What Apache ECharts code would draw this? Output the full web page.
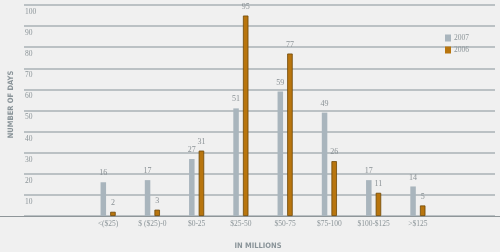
<!DOCTYPE html>
<html><head><meta charset="utf-8">
<script src="https://cdn.jsdelivr.net/npm/echarts@6/dist/echarts.min.js"></script>
<style>html,body{margin:0;padding:0;background:#f0f0f0}#c{width:500px;height:252px}</style>
</head><body><div id="c"></div>
<script>
const categories = ['<($25)', '$ ($25)-0', '$0-25', '$25-50', '$50-75', '$75-100', '$100-$125', '>$125'];
const values2007 = [16, 17, 27, 51, 59, 49, 17, 14];
const values2006 = [2, 3, 31, 95, 77, 26, 11, 5];
const seriesNames = ['2007', '2006'];
const yTicks = [0, 10, 20, 30, 40, 50, 60, 70, 80, 90, 100];

const serif = 'Liberation Serif';
const labelColor = '#8c9599';
const nameStyle = { fontFamily: 'DejaVu Sans Condensed', fontWeight: 'bold', fontSize: 7.5, color: '#8a9499' };
const chart = echarts.init(document.getElementById('c'));
chart.setOption({
  backgroundColor: '#f0f0f0',
  animation: false,
  legend: {
    data: seriesNames, orient: 'vertical', left: 440, top: 29,
    itemWidth: 6, itemHeight: 7, itemGap: 4, icon: 'rect',
    itemStyle: { borderWidth: 0 },
    textStyle: { fontFamily: serif, fontSize: 7.5, color: labelColor, padding: [0,0,0,-2] }
  },
  grid: [
    { left: 86, right: 60, top: 5, bottom: 36, outerBoundsMode: 'none', containLabel: false },
    { left: 24, right: 5, top: 5, bottom: 36, outerBoundsMode: 'none', containLabel: false },
    { left: 0, right: 0, top: 5, bottom: 36, outerBoundsMode: 'none', containLabel: false }
  ],
  xAxis: [
    { gridIndex: 0, type: 'category', data: categories,
      axisLine: { show: false }, axisTick: { show: false },
      axisLabel: { fontFamily: serif, fontSize: 7.5, color: labelColor, margin: 4, interval: 0 } },
    { gridIndex: 1, type: 'value', show: false, min: 0, max: 1 },
    { gridIndex: 2, type: 'value', min: 0, max: 1,
      axisLine: { show: true, lineStyle: { color: '#8f9699', width: 1.2 } },
      axisTick: { show: false }, axisLabel: { show: false }, splitLine: { show: false },
      name: 'IN MILLIONS', nameLocation: 'middle', nameGap: 26,
      nameTextStyle: Object.assign({ padding: [0,0,0,16] }, nameStyle) }
  ],
  yAxis: [
    { gridIndex: 0, type: 'value', min: 0, max: 100, interval: 10, show: false, splitLine: { show: false } },
    { gridIndex: 1, type: 'value', min: 0, max: 100, interval: 10,
      axisLine: { show: false }, axisTick: { show: false },
      splitLine: { show: true, lineStyle: { color: '#aab2b6', width: 1.5 } },
      axisLabel: { inside: true, verticalAlign: 'top', align: 'left', margin: 1, padding: [3,0,0,0],
        fontFamily: serif, fontSize: 7.5, color: labelColor,
        formatter: v => (v === 0 ? '' : String(v)) } },
    { gridIndex: 2, type: 'value', min: 0, max: 1, show: true,
      axisLine: { show: false }, axisTick: { show: false }, axisLabel: { show: false }, splitLine: { show: false },
      name: 'NUMBER OF DAYS', nameLocation: 'middle', nameGap: -15, nameRotate: 90,
      nameTextStyle: Object.assign({ padding: [0,0,0,12] }, nameStyle) }
  ],
  series: [
    { name: seriesNames[0], type: 'bar', xAxisIndex: 0, yAxisIndex: 0, data: values2007,
      barWidth: 5.5, barGap: '75%',
      itemStyle: { color: '#a9b5bd' },
      label: { show: true, position: 'top', distance: 5, fontFamily: serif, fontSize: 8, color: '#8a9195' } },
    { name: seriesNames[1], type: 'bar', xAxisIndex: 0, yAxisIndex: 0, data: values2006,
      barWidth: 5.5,
      itemStyle: { color: '#b8750e', borderColor: '#6f4706', borderWidth: 0.8 },
      label: { show: true, position: 'top', distance: 5, fontFamily: serif, fontSize: 8, color: '#8a9195' } }
  ]
});
</script></body></html>
